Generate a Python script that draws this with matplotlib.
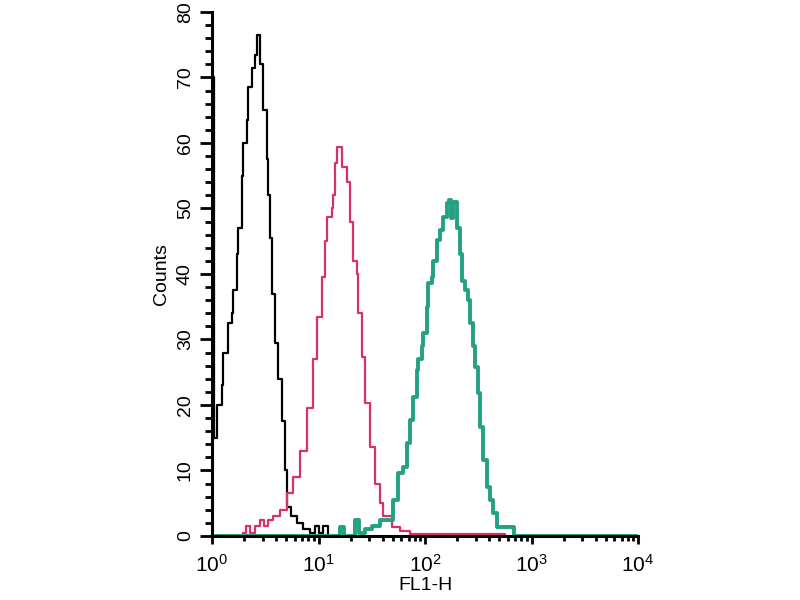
import numpy as np
import matplotlib.pyplot as plt
from matplotlib.ticker import MultipleLocator, LogLocator

plt.rcParams['font.family'] = ['Liberation Sans', 'DejaVu Sans']
plt.rcParams['mathtext.default'] = 'regular'

# channel positions in decades (log10 of FL1-H) and counts
black_dec = [0.0, 0.02, 0.047, 0.094, 0.103, 0.150, 0.188, 0.197, 0.235, 0.244,
             0.282, 0.291, 0.329, 0.338, 0.376, 0.404, 0.423, 0.451, 0.479, 0.516,
             0.526, 0.545, 0.563, 0.592, 0.620, 0.657, 0.685, 0.704, 0.742, 0.798,
             0.854, 0.920, 0.967, 1.005, 1.042, 1.089]
black_cnt = [70, 15, 20, 23, 28, 32.5, 34, 37.5, 43, 47,
             55, 60, 63.5, 68.5, 71.5, 73.5, 76.5, 72, 65, 57.5,
             52, 45.5, 37, 29.5, 24, 17.5, 10, 4.5, 3, 2,
             1, 0.5, 1.5, 0.5, 1.5, 0]

pink_dec = [0.291, 0.319, 0.357, 0.404, 0.451, 0.488, 0.526, 0.573, 0.638, 0.704,
            0.761, 0.826, 0.892, 0.948, 0.986, 1.033, 1.061, 1.080, 1.127, 1.136,
            1.155, 1.174, 1.221, 1.268, 1.296, 1.324, 1.362, 1.371, 1.408, 1.437,
            1.484, 1.531, 1.577, 1.606, 1.690, 1.765, 1.859, 2.751]
pink_cnt = [0.5, 1.5, 0.5, 1.5, 2.5, 1.5, 2.5, 3, 4, 6.5,
            9, 13, 19.5, 27, 33.5, 39.5, 45, 48.7, 50, 52,
            57, 59.4, 56.3, 54, 48, 42, 40, 34, 27.3, 20.3,
            13.6, 8, 5, 3, 1.4, 0.8, 0.3, 0]

green_dec = [0.0, 1.202, 1.240, 1.343, 1.380, 1.437, 1.502, 1.577, 1.671, 1.700,
             1.746, 1.793, 1.831, 1.859, 1.887, 1.925, 1.934, 1.972, 1.981, 2.019,
             2.028, 2.066, 2.075, 2.113, 2.141, 2.169, 2.207, 2.225, 2.244, 2.263,
             2.300, 2.329, 2.347, 2.376, 2.404, 2.423, 2.451, 2.469, 2.498, 2.516,
             2.545, 2.582, 2.610, 2.638, 2.676, 2.770, 2.836, 4.0]
green_cnt = [0, 1.4, 0, 2.4, 0.5, 1, 1.5, 2.4, 2.4, 5.5,
             9.6, 10.5, 14.2, 17.7, 21.2, 25.3, 27, 29, 31, 35,
             38.6, 39.5, 42, 45.2, 46.7, 48.7, 50.8, 51.3, 48.5, 51,
             47, 43, 39, 37.5, 36, 32.5, 29, 25.8, 21.8, 16.6,
             11.6, 7.5, 5.5, 3.5, 1.4, 1.4, 0, 0]

fig = plt.figure(figsize=(8, 6), dpi=100)
ax = fig.add_axes([0.265, 0.1067, 0.5325, 0.8733])

ax.plot(10 ** np.array(black_dec), black_cnt, drawstyle='steps-post', color='black', lw=1.6)
ax.plot(10 ** np.array(pink_dec), pink_cnt, drawstyle='steps-post', color='#d8306e', lw=1.6)
ax.plot(10 ** np.array(green_dec), green_cnt, drawstyle='steps-post', color='#24a184', lw=2.8)

ax.set_xscale('log')
ax.set_xlim(1, 1e4)
ax.set_ylim(0, 80)

ax.spines['top'].set_visible(False)
ax.spines['right'].set_visible(False)
ax.spines['left'].set_linewidth(2.2)
ax.spines['bottom'].set_linewidth(2.2)

ax.yaxis.set_major_locator(MultipleLocator(10))
ax.yaxis.set_minor_locator(MultipleLocator(2))
ax.xaxis.set_major_locator(LogLocator(base=10))
ax.xaxis.set_minor_locator(LogLocator(base=10, subs=np.arange(2, 10)))

ax.tick_params(axis='y', which='major', length=9, width=2, labelsize=14, pad=4)
ax.tick_params(axis='y', which='minor', length=5, width=2)
ax.tick_params(axis='x', which='major', length=6, width=2, labelsize=15, pad=7)
ax.tick_params(axis='x', which='minor', length=3.5, width=2)
for lbl in ax.get_yticklabels():
    lbl.set_rotation(90)
    lbl.set_va('center')

ax.set_xlabel('FL1-H', fontsize=14, labelpad=1)
ax.set_ylabel('Counts', fontsize=14, labelpad=5)

fig.savefig('out.png', dpi=100)
